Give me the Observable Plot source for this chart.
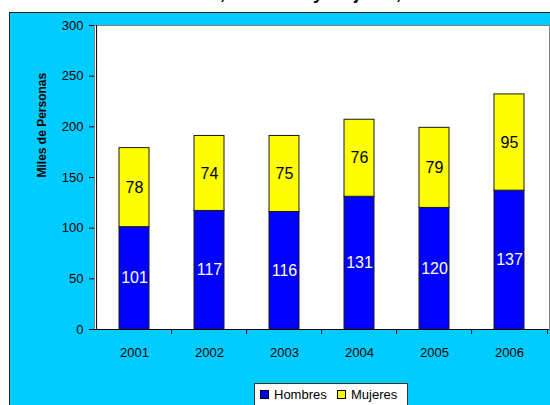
<!DOCTYPE html>
<html>
<head>
<meta charset="utf-8">
<script src="https://cdn.jsdelivr.net/npm/d3@7"></script>
<script src="https://cdn.jsdelivr.net/npm/@observablehq/plot@0.6"></script>
<style>
  html, body { margin: 0; padding: 0; background: #ffffff; width: 550px; height: 405px; overflow: hidden; font-family: "Liberation Sans", Arial, sans-serif; }
  #bgframe { position: absolute; left: 9px; top: 12px; width: 600px; height: 420px; background: #00CCFF; border-left: 1px solid #222; border-top: 1px solid #222; }
  #title { position: absolute; left: 118px; top: -16px; font-family: "Liberation Sans", Arial, sans-serif; font-weight: bold; font-size: 18px; line-height: 18px; white-space: nowrap; color: #000; }
  #chart { position: absolute; left: 0; top: 0; }
  #legend { position: absolute; left: 254px; top: 383px; width: 152px; height: 30px; background: #fff; border: 1px solid #333; font-size: 13px; color: #000; }
  .item { position: absolute; top: 3px; display: flex; align-items: center; gap: 5px; }
  .sw { width: 7px; height: 7px; border: 1px solid #000; display: inline-block; }
</style>
</head>
<body>
<div id="bgframe"></div>
<div id="title">Asalariados, Hombres y Mujeres, 2001 - 2006</div>
<div id="chart"></div>
<div id="legend"></div>
<script>
const years = ["2001", "2002", "2003", "2004", "2005", "2006"];
const hombres = [101, 117, 116, 131, 120, 137];
const mujeres = [78, 74, 75, 76, 79, 95];
const series = ["Hombres", "Mujeres"];
const colors = ["#0000FF", "#FFFF00"];
const yTicks = [0, 50, 100, 150, 200, 250, 300];

const data = years.flatMap((year, i) => [
  {year, serie: "Hombres", value: hombres[i]},
  {year, serie: "Mujeres", value: mujeres[i]}
]);

const W = 550, H = 370, ML = 94, MR = 1, MT = 25, MB = 41;
const half = (W - ML - MR) / years.length / 2;

const plot = Plot.plot({
  width: W, height: H,
  marginLeft: ML, marginRight: MR, marginTop: MT, marginBottom: MB,
  style: {background: "transparent", fontFamily: "'Liberation Sans', Arial, sans-serif", fontSize: "13px", color: "#000", overflow: "visible"},
  x: {domain: years, paddingInner: 0.6, paddingOuter: 0.3, label: null},
  y: {domain: [0, 300], ticks: yTicks, label: null},
  color: {domain: series, range: colors},
  marks: [
    Plot.frame({fill: "white", stroke: "#808080"}),
    Plot.barY(data, {x: "year", y: "value", fill: "serie", stroke: "#1a1a1a", strokeWidth: 1}),
    Plot.text(data, Plot.stackY({
      x: "year", y: "value", z: "serie",
      text: d => String(d.value),
      fill: d => d.serie === "Hombres" ? "white" : "black",
      fontSize: 16
    })),
    Plot.ruleY([0], {stroke: "#000"}),
    Plot.ruleX([years[0]], {dx: -half, stroke: "#000"}),
    Plot.ruleX(years.slice(1), {dx: -half, y1: 0, y2: 0, insetBottom: -5, stroke: "#000"}),
    Plot.ruleX([years[years.length - 1]], {dx: half, y1: 0, y2: 0, insetBottom: -5, stroke: "#000"}),
    Plot.axisY({ticks: yTicks, tickSize: 5, tickPadding: 6, label: null, fontSize: 13}),
    Plot.axisX({tickSize: 0, tickPadding: 18, label: null, fontSize: 13}),
    Plot.text(["Miles de Personas"], {frameAnchor: "left", rotate: -90, dx: -52, fontWeight: "bold", fontSize: 12})
  ]
});
document.getElementById("chart").appendChild(plot);

const legend = document.getElementById("legend");
const lefts = [5, 82];
series.forEach((s, i) => {
  const it = document.createElement("div");
  it.className = "item";
  it.style.left = lefts[i] + "px";
  it.innerHTML = `<span class="sw" style="background:${colors[i]}"></span><span>${s}</span>`;
  legend.appendChild(it);
});
</script>
</body>
</html>
